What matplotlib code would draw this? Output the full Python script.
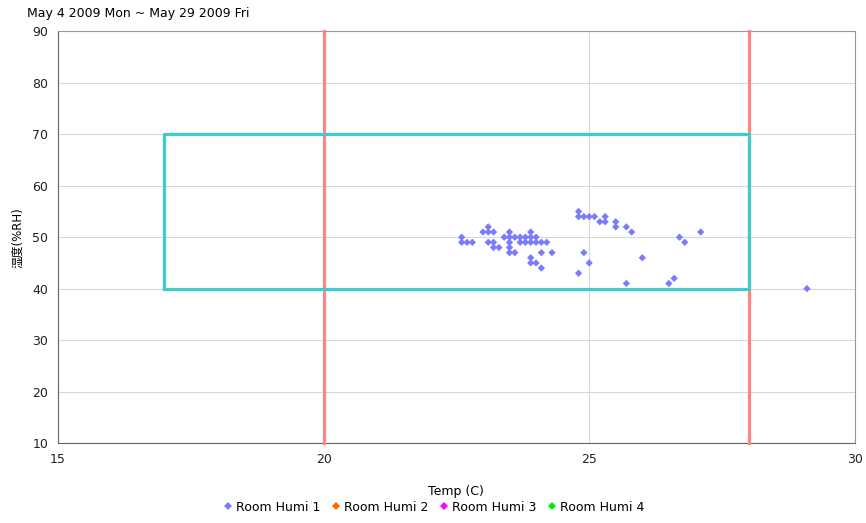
import matplotlib
matplotlib.use('Agg')
import matplotlib.pyplot as plt
from matplotlib.lines import Line2D

plt.rcParams['font.family'] = ['DejaVu Sans', 'Noto Sans CJK JP']

# room humidity 1 readings (temp C, humidity %RH)
temp = [22.6, 22.6, 22.7, 22.8, 23.0, 23.1, 23.2, 23.1, 23.1, 23.2,
        23.2, 23.3, 23.4, 23.5, 23.5, 23.6, 23.7, 23.8, 23.9, 24.0,
        23.9, 23.5, 23.7, 23.8, 23.9, 24.0, 24.1, 24.2, 23.5, 23.5,
        23.6, 24.1, 24.3, 23.9, 23.9, 24.0, 24.1, 24.8, 24.8, 24.9,
        25.0, 25.1, 25.3, 25.2, 25.3, 25.5, 25.5, 25.7, 25.8, 24.9,
        25.0, 24.8, 26.0, 25.7, 26.5, 26.6, 26.7, 26.8, 27.1, 29.1]
humi = [50, 49, 49, 49, 51, 51, 51, 52, 49, 49,
        48, 48, 50, 51, 50, 50, 50, 50, 50, 50,
        51, 49, 49, 49, 49, 49, 49, 49, 48, 47,
        47, 47, 47, 46, 45, 45, 44, 55, 54, 54,
        54, 54, 54, 53, 53, 53, 52, 52, 51, 47,
        45, 43, 46, 41, 41, 42, 50, 49, 51, 40]

series_names = ['Room Humi 1', 'Room Humi 2', 'Room Humi 3', 'Room Humi 4']
series_colors = ['#7b7bff', '#ff6600', '#ff00ff', '#00ee00']

temp_limits = [20, 28]       # red vertical limits
box_x = [17, 28]             # comfort zone
box_y = [40, 70]

fig = plt.figure(figsize=(8.66, 5.23), dpi=100)
ax = fig.add_axes([0.067, 0.153, 0.92, 0.787])

ax.set_xlim(15, 30)
ax.set_ylim(10, 90)
ax.set_xticks(range(15, 31, 5))
ax.set_yticks(range(10, 91, 10))
ax.grid(True, color='#d8d8d8', linewidth=0.8)
ax.set_axisbelow(True)
ax.tick_params(length=0, labelsize=9, pad=7, colors='#222222')

for s in ['left', 'bottom']:
    ax.spines[s].set_color('#666666')
for s in ['top', 'right']:
    ax.spines[s].set_color('#999999')

for t in temp_limits:
    ax.axvline(t, color='#ff8585', linewidth=2.3, zorder=3, clip_on=False)
ax.plot([box_x[0], box_x[1], box_x[1], box_x[0], box_x[0]],
        [box_y[0], box_y[0], box_y[1], box_y[1], box_y[0]],
        color='#3ccccc', linewidth=2.3, zorder=3.5)

ax.scatter(temp, humi, marker='D', s=14, color=series_colors[0],
           edgecolors='none', zorder=4)

ax.set_xlabel('Temp (C)', fontsize=9, labelpad=14)
ax.set_ylabel('湿度(%RH)', fontsize=8.5, labelpad=6)

fig.text(0.031, 0.962, 'May 4 2009 Mon ~ May 29 2009 Fri', fontsize=9,
         va='bottom', ha='left')

handles = [Line2D([], [], marker='D', linestyle='none', markersize=4,
                  color=c, markeredgewidth=0) for c in series_colors]
fig.legend(handles, series_names, loc='center', bbox_to_anchor=(0.5, 0.03),
           ncol=4, frameon=False, fontsize=9, handletextpad=0.1,
           columnspacing=0.8, handlelength=1.0)

fig.savefig('out.png', dpi=100)
